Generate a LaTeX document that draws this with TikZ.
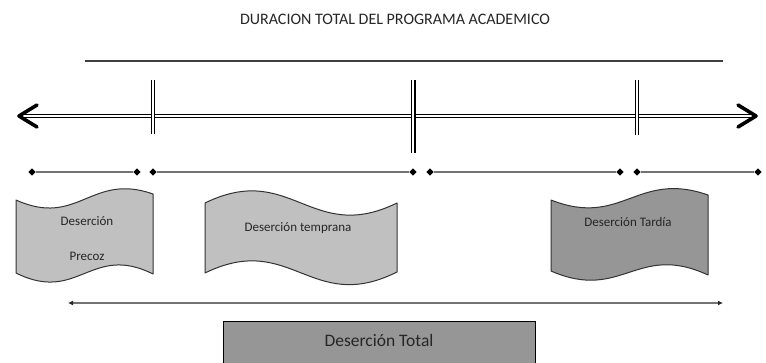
\documentclass[tikz,border=0pt]{standalone}
\usepackage{fontspec}
\setmainfont{Carlito}
\usetikzlibrary{arrows.meta,shapes.geometric}
\definecolor{hell}{HTML}{C0C0C0}
\definecolor{dunkel}{HTML}{969696}
\definecolor{linie}{HTML}{737373}
\begin{document}
\begin{tikzpicture}[x=1pt,y=-1pt,
  welle/.style={draw=black!80,line width=1pt,line join=round},
  zeit/.style={draw=linie,line width=1.5pt},
  punkt/.style={diamond,fill=black,inner sep=0pt,minimum size=7.5pt},
  balken/.style={draw=black,double=white,double distance=2pt,line width=1.1pt},
  spitze/.style={line width=3.6pt,line cap=round,line join=round},
  etikett/.style={font=\fontsize{13}{15}\selectfont,text=black!85}]
\useasboundingbox (0,0) rectangle (766,362);

% Titel
\node[font=\fontsize{16}{18}\selectfont,text=black!85] (titel) at (395,19) {DURACION TOTAL DEL PROGRAMA ACADEMICO};
\coordinate (ol) at (85,61);
\coordinate (or) at (723,61);
\draw[draw=black!75,line width=1.4pt] (ol) -- (or);

% Zeitachse
\coordinate (pl) at (19,116);
\coordinate (pr) at (756,116);
\draw[balken,double distance=1.5pt] (pl) -- (pr);
\draw[spitze] ([shift={(18,-11)}]pl) -- (pl) -- ([shift={(18,11)}]pl);
\draw[spitze] ([shift={(-18,-11)}]pr) -- (pr) -- ([shift={(-18,11)}]pr);

\coordinate (s1o) at (153,80);  \coordinate (s1u) at (153,134);
\coordinate (s2o) at (413,80);  \coordinate (s2u) at (413,153);
\coordinate (s3o) at (637,80);  \coordinate (s3u) at (637,135);
\draw[balken] (s1o) -- (s1u);
\draw[balken,line width=1.5pt] (s2o) -- (s2u);
\draw[balken] (s3o) -- (s3u);

% Abschnitte
\node[punkt] (a1) at (32,172) {};
\node[punkt] (a2) at (137,172) {};
\node[punkt] (b1) at (153,172) {};
\node[punkt] (b2) at (413,172) {};
\node[punkt] (c1) at (430,172) {};
\node[punkt] (c2) at (620,172) {};
\node[punkt] (d1) at (637,172) {};
\node[punkt] (d2) at (758,172) {};
\draw[zeit] (a1) -- (a2);
\draw[zeit] (b1) -- (b2);
\draw[zeit] (c1) -- (c2);
\draw[zeit] (d1) -- (d2);

% Wellen
\draw[welle,fill=hell] (16,200) .. controls (78,228) and (91,172) .. (153,194)
  -- (153,274) .. controls (91,243) and (78,304) .. (16,273) -- cycle;
\draw[welle,fill=hell] (205,203) .. controls (291,161) and (311,245) .. (397,203)
  -- (397,272) .. controls (311,315) and (291,231) .. (205,273) -- cycle;
\draw[welle,fill=dunkel] (551,200) .. controls (622,228) and (637,170) .. (708,195)
  -- (708,275) .. controls (637,242) and (622,302) .. (551,271) -- cycle;

\node[etikett] (precoz1) at (87,221) {Deserción};
\node[etikett] (precoz2) at (87,256) {Precoz};
\node[etikett] (temprana) at (298,228) {Deserción temprana};
\node[etikett] (tardia) at (628,222) {Deserción Tardía};

% Gesamt
\coordinate (g1) at (68,303);
\coordinate (g2) at (723,303);
\draw[zeit,{Latex[length=5pt,width=5pt,color=black!85]}-{Latex[length=5pt,width=5pt,color=black!85]}] (g1) -- (g2);
\draw[draw=black,line width=1pt,fill=dunkel] (223,321) rectangle (535,390);
\node[font=\fontsize{17.5}{20}\selectfont,text=black!85] (total) at (379,340) {Deserción Total};
\end{tikzpicture}
\end{document}
